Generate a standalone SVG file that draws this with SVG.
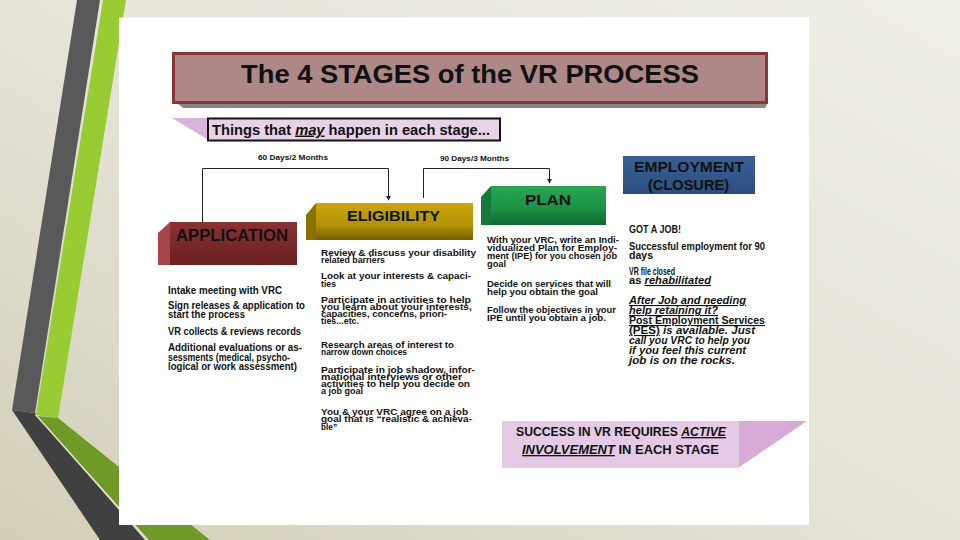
<svg xmlns="http://www.w3.org/2000/svg" width="960" height="540" viewBox="0 0 960 540">
<defs>
<linearGradient id="bg" x1="0" y1="1" x2="1" y2="0">
<stop offset="0" stop-color="#d2ceb7"/><stop offset="0.5" stop-color="#e6e4d8"/><stop offset="1" stop-color="#efeee7"/>
</linearGradient>
<linearGradient id="gApp" x1="0" y1="0" x2="0" y2="1">
<stop offset="0" stop-color="#8a3333"/><stop offset="1" stop-color="#6a1f1f"/>
</linearGradient>
<linearGradient id="gElig" x1="0" y1="0" x2="0" y2="1">
<stop offset="0" stop-color="#c9a70c"/><stop offset="0.6" stop-color="#b39206"/><stop offset="1" stop-color="#725f00"/>
</linearGradient>
<linearGradient id="gPlan" x1="0" y1="0" x2="0" y2="1">
<stop offset="0" stop-color="#2aa653"/><stop offset="0.6" stop-color="#1a9043"/><stop offset="1" stop-color="#0e6a2e"/>
</linearGradient>
<linearGradient id="gEmp" x1="0" y1="0" x2="0" y2="1">
<stop offset="0" stop-color="#3a6194"/><stop offset="1" stop-color="#2b4e7e"/>
</linearGradient>
<marker id="arr" viewBox="0 0 6 6" refX="5" refY="3" markerWidth="5" markerHeight="5" orient="auto" markerUnits="userSpaceOnUse">
<path d="M0,0 L6,3 L0,6 z" fill="#222"/>
</marker>
<style>
.t{font-family:"Liberation Sans",Arial,sans-serif;font-weight:bold;fill:#111}
.h{font-size:16px}
.b{font-size:10.5px}
.s{font-size:9.6px}
.e{font-size:11px}
.i{font-style:italic}
.u{text-decoration:underline}
.conn{fill:none;stroke:#222;stroke-width:1}
</style>
</defs>
<rect width="960" height="540" fill="url(#bg)"/>
<g id="decoration">
<polygon points="77,0 100,0 35,413 12,410" fill="#595959"/>
<polygon points="12,410 35,413 145,540 100,540" fill="#404040"/>
<polygon points="103,0 126,0 58,418 36,415" fill="#99cc33"/>
<polygon points="37,416 58,418 210,540 149,540" fill="#6f9a2a"/>
<line x1="35.5" y1="414.5" x2="147" y2="540" stroke="#e4e2d4" stroke-width="1.5"/>
</g>
<rect x="119" y="17.5" width="690" height="507.5" fill="#ffffff"/>

<g id="title">
<polygon points="177,103 768,103 765,108 183,108" fill="#5e5e5e" opacity="0.75"/>
<rect x="173.5" y="53.5" width="593" height="49" fill="#ae8787" stroke="#8c3535" stroke-width="3"/>
<text class="t" x="241" y="83" font-size="25" textLength="458" lengthAdjust="spacingAndGlyphs">The 4 STAGES of the VR PROCESS</text>
</g>

<g id="subtitle">
<polygon points="172,118 210,118 210,141" fill="#d8b4d8"/>
<rect x="208" y="118.5" width="292" height="22" fill="#e8d2e8" stroke="#111" stroke-width="2"/>
<text class="t" x="212" y="134.5" font-size="15" textLength="278" lengthAdjust="spacingAndGlyphs">Things that <tspan class="i u">may</tspan> happen in each stage...</text>
</g>

<g id="connectors">
<path class="conn" d="M202.5,222 V168.5 H388.5 V200" marker-end="url(#arr)"/>
<path class="conn" d="M423.5,198 V168.5 H549.5 V183" marker-end="url(#arr)"/>
<text class="t" x="258" y="160" font-size="7.5" textLength="70" lengthAdjust="spacingAndGlyphs">60 Days/2 Months</text>
<text class="t" x="440" y="161" font-size="7.5" textLength="69" lengthAdjust="spacingAndGlyphs">90 Days/3 Months</text>
</g>

<g id="application">
<polygon points="158,233 170,222 170,265 158,265" fill="#a54545"/>
<rect x="170" y="222" width="127" height="43" fill="url(#gApp)"/>
<text class="t h" x="176" y="240.5" textLength="112" lengthAdjust="spacingAndGlyphs">APPLICATION</text>
<g class="t b">
<text x="168" y="294" textLength="114" lengthAdjust="spacingAndGlyphs">Intake meeting with VRC</text>
<text x="168" y="309" textLength="137" lengthAdjust="spacingAndGlyphs">Sign releases &amp; application to</text>
<text x="168" y="318" textLength="77" lengthAdjust="spacingAndGlyphs">start the process</text>
<text x="168" y="335" textLength="133" lengthAdjust="spacingAndGlyphs">VR collects &amp; reviews records</text>
<text x="168" y="351" textLength="134" lengthAdjust="spacingAndGlyphs">Additional evaluations or as-</text>
<text x="168" y="360.5" textLength="122" lengthAdjust="spacingAndGlyphs">sessments (medical, psycho-</text>
<text x="168" y="370" textLength="129" lengthAdjust="spacingAndGlyphs">logical or work assessment)</text>
</g>
</g>

<g id="eligibility">
<polygon points="306,215 316,203 316,240 306,240" fill="#8a7200"/>
<rect x="316" y="203" width="157" height="37" fill="url(#gElig)"/>
<text class="t" x="347" y="221" font-size="15" textLength="93" lengthAdjust="spacingAndGlyphs">ELIGIBILITY</text>
<g class="t s">
<text x="321" y="255.5" textLength="155" lengthAdjust="spacingAndGlyphs">Review &amp; discuss your disability</text>
<text x="321" y="263" textLength="64" lengthAdjust="spacingAndGlyphs">related barriers</text>
<text x="321" y="279" textLength="150" lengthAdjust="spacingAndGlyphs">Look at your interests &amp; capaci-</text>
<text x="321" y="287" textLength="15" lengthAdjust="spacingAndGlyphs">ties</text>
<text x="321" y="303" textLength="150" lengthAdjust="spacingAndGlyphs">Participate in activities to help</text>
<text x="321" y="310" textLength="151" lengthAdjust="spacingAndGlyphs">you learn about your interests,</text>
<text x="321" y="317" textLength="126" lengthAdjust="spacingAndGlyphs">capacities, concerns, priori-</text>
<text x="321" y="324" textLength="38" lengthAdjust="spacingAndGlyphs">ties...etc.</text>
<text x="321" y="348" textLength="133" lengthAdjust="spacingAndGlyphs">Research areas of interest to</text>
<text x="321" y="355" textLength="86" lengthAdjust="spacingAndGlyphs">narrow down choices</text>
<text x="321" y="373" textLength="154" lengthAdjust="spacingAndGlyphs">Participate in job shadow, infor-</text>
<text x="321" y="380" textLength="141" lengthAdjust="spacingAndGlyphs">mational interviews or other</text>
<text x="321" y="387" textLength="149" lengthAdjust="spacingAndGlyphs">activities to help you decide on</text>
<text x="321" y="394" textLength="42" lengthAdjust="spacingAndGlyphs">a job goal</text>
<text x="321" y="415" textLength="147" lengthAdjust="spacingAndGlyphs">You &amp; your VRC agree on a job</text>
<text x="321" y="422" textLength="151" lengthAdjust="spacingAndGlyphs">goal that is “realistic &amp; achieva-</text>
<text x="321" y="429.5" textLength="16" lengthAdjust="spacingAndGlyphs">ble”</text>
</g>
</g>

<g id="plan">
<polygon points="481,197 491,186 491,225 481,225" fill="#137a38"/>
<rect x="491" y="186" width="115" height="39" fill="url(#gPlan)"/>
<text class="t" x="525" y="204.5" font-size="15" textLength="46" lengthAdjust="spacingAndGlyphs">PLAN</text>
<g class="t s">
<text x="487" y="243" textLength="132" lengthAdjust="spacingAndGlyphs">With your VRC, write an Indi-</text>
<text x="487" y="251" textLength="130" lengthAdjust="spacingAndGlyphs">vidualized Plan for Employ-</text>
<text x="487" y="259" textLength="130" lengthAdjust="spacingAndGlyphs">ment (IPE) for you chosen job</text>
<text x="487" y="267" textLength="19" lengthAdjust="spacingAndGlyphs">goal</text>
<text x="487" y="287" textLength="124" lengthAdjust="spacingAndGlyphs">Decide on services that will</text>
<text x="487" y="295" textLength="111" lengthAdjust="spacingAndGlyphs">help you obtain the goal</text>
<text x="487" y="313" textLength="129" lengthAdjust="spacingAndGlyphs">Follow the objectives in your</text>
<text x="487" y="321" textLength="119" lengthAdjust="spacingAndGlyphs">IPE until you obtain a job.</text>
</g>
</g>

<g id="employment">
<rect x="623" y="156" width="132" height="38" fill="url(#gEmp)"/>
<text class="t" x="634" y="171.5" font-size="15" textLength="110" lengthAdjust="spacingAndGlyphs" fill="#161620">EMPLOYMENT</text>
<text class="t" x="648" y="189.5" font-size="15" textLength="81" lengthAdjust="spacingAndGlyphs" fill="#161620">(CLOSURE)</text>
<g class="t e">
<text x="629" y="232.5" textLength="52" lengthAdjust="spacingAndGlyphs">GOT A JOB!</text>
<text x="629" y="250" textLength="136" lengthAdjust="spacingAndGlyphs">Successful employment for 90</text>
<text x="629" y="258.5" textLength="24" lengthAdjust="spacingAndGlyphs">days</text>
<text x="629" y="274.5" textLength="46" lengthAdjust="spacingAndGlyphs">VR file closed</text>
<text x="629" y="284" textLength="82" lengthAdjust="spacingAndGlyphs">as <tspan class="i u">rehabilitated</tspan></text>
<text class="i u" x="629" y="304" textLength="117" lengthAdjust="spacingAndGlyphs">After Job and needing</text>
<text class="i u" x="629" y="314" textLength="89" lengthAdjust="spacingAndGlyphs">help retaining it?</text>
<text class="u" x="629" y="324" textLength="136" lengthAdjust="spacingAndGlyphs">Post Employment Services</text>
<text x="629" y="334" textLength="126" lengthAdjust="spacingAndGlyphs"><tspan class="u">(PES)</tspan><tspan class="i"> is available. Just</tspan></text>
<text class="i" x="629" y="344" textLength="121" lengthAdjust="spacingAndGlyphs">call you VRC to help you</text>
<text class="i" x="629" y="354" textLength="117" lengthAdjust="spacingAndGlyphs">if you feel this current</text>
<text class="i" x="629" y="364" textLength="106" lengthAdjust="spacingAndGlyphs">job is on the rocks.</text>
</g>
</g>

<g id="success">
<polygon points="738,421 807,421 738,468" fill="#d7aad7"/>
<rect x="502" y="421" width="237" height="47" fill="#e4cae4"/>
<text class="t" x="516" y="436" font-size="13" textLength="210" lengthAdjust="spacingAndGlyphs">SUCCESS IN VR REQUIRES <tspan class="i u">ACTIVE</tspan></text>
<text class="t" x="522" y="454" font-size="13" textLength="197" lengthAdjust="spacingAndGlyphs"><tspan class="i u">INVOLVEMENT</tspan> IN EACH STAGE</text>
</g>
</svg>
